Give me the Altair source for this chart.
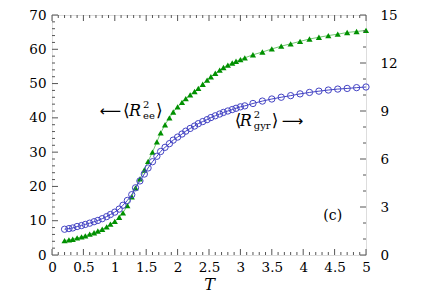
import altair as alt
import pandas as pd

# ---------------- data ----------------
T = [0.20, 0.27, 0.33, 0.40, 0.47, 0.53, 0.60, 0.67, 0.73, 0.80,
     0.87, 0.93, 1.00, 1.07, 1.13, 1.20, 1.27, 1.33, 1.40, 1.47,
     1.53, 1.60, 1.67, 1.73, 1.80, 1.87, 1.93, 2.00, 2.07, 2.13,
     2.20, 2.27, 2.33, 2.40, 2.47, 2.53, 2.60, 2.67, 2.73, 2.80,
     2.87, 2.93, 3.00, 3.07, 3.20, 3.35, 3.50, 3.65, 3.80, 3.95,
     4.10, 4.25, 4.40, 4.55, 4.70, 4.85, 5.00]

R2_ee = [4.2, 4.4, 4.6, 5.0, 5.3, 5.6, 6.1, 6.5, 7.0, 7.5,
         8.2, 9.0, 9.8, 11.0, 12.3, 14.4, 17.0, 19.6, 22.2, 24.8,
         27.3, 30.0, 33.0, 35.6, 38.0, 40.0, 41.7, 43.2, 44.5, 45.6,
         46.7, 47.7, 48.6, 49.8, 51.0, 52.0, 53.0, 53.9, 54.7, 55.4,
         56.0, 56.5, 57.0, 57.5, 58.4, 59.2, 60.1, 60.9, 61.6, 62.3,
         63.0, 63.5, 64.0, 64.4, 64.9, 65.2, 65.5]

R2_gyr = [1.61, 1.65, 1.69, 1.78, 1.84, 1.91, 1.99, 2.08, 2.16, 2.27,
          2.40, 2.53, 2.68, 2.87, 3.11, 3.41, 3.77, 4.20, 4.63, 5.06,
          5.44, 5.83, 6.17, 6.47, 6.73, 6.96, 7.18, 7.37, 7.56, 7.74,
          7.91, 8.06, 8.21, 8.34, 8.46, 8.59, 8.70, 8.81, 8.91, 9.00,
          9.09, 9.17, 9.26, 9.32, 9.47, 9.62, 9.75, 9.86, 9.96, 10.07,
          10.16, 10.24, 10.31, 10.37, 10.41, 10.46, 10.50]

x_major = [0, 0.5, 1, 1.5, 2, 2.5, 3, 3.5, 4, 4.5, 5]
x_minor = [round(i * 0.1, 1) for i in range(51) if i % 5 != 0]
yl_major = [0, 10, 20, 30, 40, 50, 60, 70]
yl_minor = [v for v in range(0, 71, 2) if v % 10 != 0]
yr_major = [0, 3, 6, 9, 12, 15]
yr_minor = [v for v in range(0, 16) if v % 3 != 0]

# ---------------- styling ----------------
W, H = 314, 240
FONT = "DejaVu Serif"
SANS = "DejaVu Sans"
LBL = 13.5
TICK = "#555555"
GREEN = "#009000"
GREEN_LINE = "#70c870"
BLUE = "#4444c4"

xs = alt.Scale(domain=[0, 5], nice=False, zero=False)
yls = alt.Scale(domain=[0, 70], nice=False)
yrs = alt.Scale(domain=[0, 15], nice=False)

axX = alt.Axis(values=x_major, format="~g", ticks=False, domain=False, grid=False,
               labelFont=FONT, labelFontSize=LBL, labelColor="black", labelPadding=5,
               labelFlush=False, labelOverlap=False,
               title="T", titleFont=FONT, titleFontSize=16, titleFontStyle="italic",
               titleFontWeight="normal", titleColor="black", titlePadding=3)
axL = alt.Axis(values=yl_major, ticks=False, domain=False, grid=False,
               labelFont=FONT, labelFontSize=LBL, labelColor="black", labelPadding=6,
               labelOverlap=False, title=None)
axR = alt.Axis(orient="right", values=yr_major, ticks=False, domain=False, grid=False,
               labelFont=FONT, labelFontSize=LBL, labelColor="black", labelPadding=14,
               labelOverlap=False, title=None)


def X(field):
    return alt.X(f"{field}:Q", scale=xs, axis=axX, title="T")


def YL(field):
    return alt.Y(f"{field}:Q", scale=yls, axis=axL, title=None)


def YR(field):
    return alt.Y(f"{field}:Q", scale=yrs, axis=axR, title=None)


df = pd.DataFrame({"T": T, "ee": R2_ee, "gyr": R2_gyr})

ee_line = alt.Chart(df).mark_line(color=GREEN_LINE, strokeWidth=1).encode(x=X("T"), y=YL("ee"))
ee_pts = alt.Chart(df).mark_point(shape="triangle-up", filled=True, color=GREEN,
                                  size=38, opacity=1).encode(x=X("T"), y=YL("ee"))
gyr_line = alt.Chart(df).mark_line(color=BLUE, strokeWidth=1).encode(x=X("T"), y=YR("gyr"))
gyr_pts = alt.Chart(df).mark_point(shape="circle", filled=False, color=BLUE,
                                   size=40, strokeWidth=1, opacity=1).encode(x=X("T"), y=YR("gyr"))


def yticks(vals, scale_y, xpos, length):
    d = pd.DataFrame({"v": vals})
    return alt.Chart(d).mark_rule(color=TICK, strokeWidth=1).encode(
        y=scale_y("v"), x=alt.value(xpos), x2=alt.value(xpos + length))


def xticks(vals, ypos, length):
    d = pd.DataFrame({"t": vals})
    return alt.Chart(d).mark_rule(color=TICK, strokeWidth=1).encode(
        x=X("t"), y=alt.value(ypos), y2=alt.value(ypos + length))


ticks_left = [
    yticks(yl_major, YL, 0, 6),
    yticks(yl_minor, YL, 0, 3),
    xticks(x_major, H, -6),
    xticks(x_minor, H, -3),
    xticks(x_major, 0, 6),
    xticks(x_minor, 0, 3),
]
ticks_right = [
    yticks(yr_major, YR, W, -6),
    yticks(yr_minor, YR, W, -3),
]

# ---------------- annotations ----------------
ee_anchor = pd.DataFrame({"T": [1.13], "v": [42.0]})
gyr_anchor = pd.DataFrame({"T": [2.91], "v": [39.2]})
c_anchor = pd.DataFrame({"T": [4.47], "v": [11.4]})


def piece(anchor, text, dx, dy, size, style="normal", align="left", font=FONT):
    return alt.Chart(anchor).mark_text(
        text=text, dx=dx, dy=dy, fontSize=size, fontStyle=style, align=align,
        baseline="middle", font=font, color="black").encode(x=X("T"), y=YL("v"))


annots = [
    piece(ee_anchor, "⟵", -2, 0, 15, align="right", font=SANS),
    piece(ee_anchor, "⟨", 0, 0, 17, font=SANS),
    piece(ee_anchor, "R", 6, 0, 16, style="italic"),
    piece(ee_anchor, "2", 20, -6, 10),
    piece(ee_anchor, "ee", 20, 5, 10),
    piece(ee_anchor, "⟩", 33, 0, 17, font=SANS),
    piece(gyr_anchor, "⟨", 0, 0, 17, font=SANS),
    piece(gyr_anchor, "R", 5, 0, 16, style="italic"),
    piece(gyr_anchor, "2", 19, -6, 10),
    piece(gyr_anchor, "gyr", 19, 5, 10),
    piece(gyr_anchor, "⟩", 37, 0, 17, font=SANS),
    piece(gyr_anchor, "⟶", 47, 0, 15, font=SANS),
    piece(c_anchor, "(c)", 0, 0, 14, align="center"),
]

left = alt.layer(*ticks_left, ee_line, ee_pts, *annots)
right = alt.layer(*ticks_right, gyr_line, gyr_pts)

chart = alt.layer(left, right).resolve_scale(y="independent").properties(
    width=W, height=H,
    padding={"left": 44, "top": 7, "right": 51, "bottom": 43},
    autosize=alt.AutoSizeParams(type="none"),
).configure_view(
    stroke="#555555", strokeWidth=1.2
).configure_axis(
    labelFont=FONT, titleFont=FONT, labelFontSize=LBL, labelColor="black"
).configure_text(
    font=FONT
).configure(background="white")

chart.save("out.html", embed_options={"renderer": "svg", "actions": False})
